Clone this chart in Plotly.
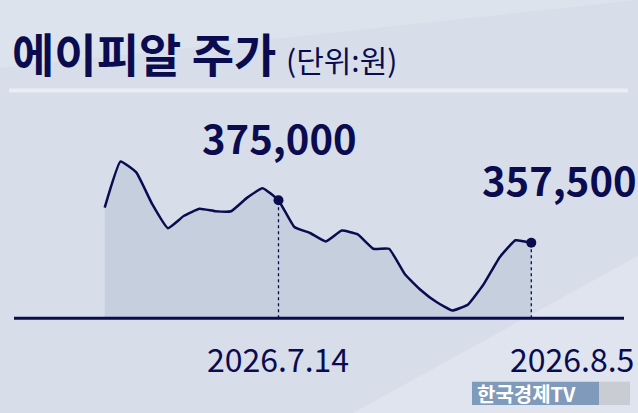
import plotly.graph_objects as go

# ---- data ----
dates = ["2026-06-29", "2026-06-30", "2026-07-01", "2026-07-02", "2026-07-03",
         "2026-07-06", "2026-07-07", "2026-07-08", "2026-07-09", "2026-07-10",
         "2026-07-13", "2026-07-14", "2026-07-15", "2026-07-16", "2026-07-17",
         "2026-07-20", "2026-07-21", "2026-07-22", "2026-07-23", "2026-07-24",
         "2026-07-27", "2026-07-28", "2026-07-29", "2026-07-30", "2026-07-31",
         "2026-08-03", "2026-08-04", "2026-08-05"]
prices = [372000, 391000, 386500, 373500, 363500, 368500, 371500, 370500, 370500,
          376000, 380000, 375000, 364000, 361500, 358000, 362500, 361000, 355000,
          355000, 344500, 338000, 333000, 329500, 332000, 340500, 351500, 358500,
          357500]
base_value = 326300
marked_dates = ["2026-07-14", "2026-08-05"]
marked_prices = [375000, 357500]
marked_labels = ["375,000", "357,500"]
date_labels = ["2026.7.14", "2026.8.5"]
title_text = "에이피알 주가"
unit_text = "(단위:원)"
source_text = "한국경제TV"

W, H = 638, 413
NAVY = "#0b0b50"
BG = "#d8dee9"
FILL = "#c6cfdd"
KFONT = "Noto Sans CJK KR"

# pixel mapping helpers for the layout (plot area = full canvas)
step = 15.8
x0px = 104.7
xr = [-x0px / step, (W - x0px) / step]
per_px = 412.7
yr = [375000 - (H - 200.3) * per_px, 375000 + 200.3 * per_px]

def py(px):
    return 1 - px / H

def px_(px):
    return px / W

fig = go.Figure()

# baseline helper for fill
fig.add_trace(go.Scatter(x=dates, y=[base_value] * len(dates), mode="lines",
                         line=dict(width=0, color="rgba(0,0,0,0)"),
                         hoverinfo="skip", showlegend=False))
fig.add_trace(go.Scatter(x=dates, y=prices, mode="lines", fill="tonexty",
                         fillcolor=FILL,
                         line=dict(color=NAVY, width=2.5, shape="spline", smoothing=0.35),
                         showlegend=False))
# dotted drop lines
for d, p in zip(marked_dates, marked_prices):
    fig.add_trace(go.Scatter(x=[d, d], y=[base_value, p], mode="lines",
                             line=dict(color=NAVY, width=1.3, dash="3px,3px"),
                             showlegend=False, hoverinfo="skip"))
fig.add_trace(go.Scatter(x=marked_dates, y=marked_prices, mode="markers",
                         marker=dict(color=NAVY, size=10), showlegend=False))

shapes = [
    # lighter top-left band
    dict(type="path", xref="paper", yref="paper", layer="below",
         path=f"M 0 1 L 1 1 L 0 {py(68)} Z", fillcolor="#dde3ec", line=dict(width=0)),
    # lighter bottom-right band
    dict(type="path", xref="paper", yref="paper", layer="below",
         path=f"M {px_(353)} 0 L 1 0 L 1 {py(256)} Z", fillcolor="#dfe4ee", line=dict(width=0)),
    # separator under title
    dict(type="line", xref="paper", yref="paper", x0=px_(9), x1=px_(628), y0=py(90.5), y1=py(90.5),
         line=dict(color="#eaeef4", width=4)),
    # baseline
    dict(type="line", xref="paper", yref="y", x0=px_(14), x1=px_(624), y0=base_value, y1=base_value,
         line=dict(color=NAVY, width=3)),
    # watermark boxes
    dict(type="rect", xref="paper", yref="paper", x0=px_(472), x1=px_(599), y0=py(405), y1=py(381.7),
         fillcolor="#7f9aba", line=dict(width=0)),
    dict(type="rect", xref="paper", yref="paper", x0=px_(599), x1=px_(630), y0=py(405), y1=py(381.7),
         fillcolor="#c9ccd3", line=dict(width=0)),
]

annotations = [
    dict(text=f"<b>{title_text}</b>", x=px_(10), y=py(52), xanchor="left", yanchor="middle",
         font=dict(family=KFONT, size=46, color=NAVY)),
    dict(text=unit_text, x=px_(284), y=py(59), xanchor="left", yanchor="middle",
         font=dict(family=KFONT, size=30, color=NAVY)),
    dict(text=f"<b>{marked_labels[0]}</b>", x=px_(200), y=py(137), xanchor="left", yanchor="middle",
         font=dict(family=KFONT, size=40, color=NAVY)),
    dict(text=f"<b>{marked_labels[1]}</b>", x=px_(480), y=py(179), xanchor="left", yanchor="middle",
         font=dict(family=KFONT, size=40, color=NAVY)),
    dict(text=date_labels[0], x=px_(205), y=py(358), xanchor="left", yanchor="middle",
         font=dict(family=KFONT, size=32, color=NAVY)),
    dict(text=date_labels[1], x=px_(636), y=py(358), xanchor="right", yanchor="middle",
         font=dict(family=KFONT, size=32, color=NAVY)),
    dict(text=f"<b>{source_text}</b>", x=px_(475), y=py(393.5), xanchor="left", yanchor="middle",
         font=dict(family=KFONT, size=20, color="white")),
]
for a in annotations:
    a.update(xref="paper", yref="paper", showarrow=False)

fig.update_layout(
    width=W, height=H, margin=dict(l=0, r=0, t=0, b=0),
    paper_bgcolor=BG, plot_bgcolor="rgba(0,0,0,0)",
    xaxis=dict(type="category", range=xr, visible=False, fixedrange=True),
    yaxis=dict(range=yr, visible=False, fixedrange=True),
    shapes=shapes, annotations=annotations, showlegend=False,
)

fig.write_html("out.html", config={"displayModeBar": False},
               post_script="document.body.style.margin='0';document.body.style.overflow='hidden';")
